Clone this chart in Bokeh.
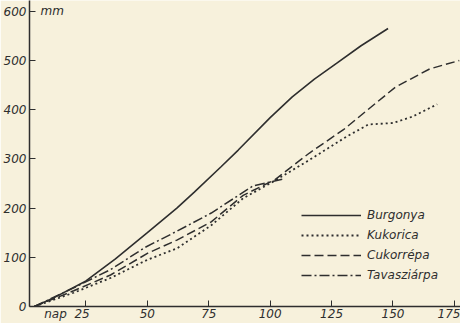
from bokeh.plotting import figure
from bokeh.models import Range1d, Legend, LegendItem, Label, FixedTicker
from bokeh.embed import file_html
from bokeh.resources import INLINE

burg_x = [4, 12, 25, 37, 50, 62, 69, 80, 87, 100, 109, 118, 127, 137, 148]
burg_y = [0, 18, 52, 97, 150, 200, 232, 284, 318, 384, 426, 462, 494, 530, 565]
kuk_x = [4, 20, 35, 50, 62, 76, 89, 102, 116, 131, 140, 150, 158, 168]
kuk_y = [0, 28, 58, 95, 118, 165, 220, 256, 298, 345, 370, 373, 386, 411]
cuk_x = [4, 20, 35, 50, 62, 76, 89, 102, 116, 130, 151, 165, 177]
cuk_y = [0, 32, 64, 108, 135, 172, 226, 258, 312, 360, 446, 483, 500]
tav_x = [4, 20, 35, 49, 62, 76, 93, 106]
tav_y = [0, 38, 75, 120, 153, 190, 245, 260]
x_ticks = [25, 50, 75, 100, 125, 150, 175]
y_ticks = [0, 100, 200, 300, 400, 500, 600]
NB = "\u00a0"
x_labels = {25: "nap" + NB * 2 + "25" + NB * 10}

BG = "#f7f1dc"
INK = "#2e2e2e"
FONT = "DejaVu Sans"

p = figure(width=460, height=323, output_backend="svg", toolbar_location=None,
           x_range=Range1d(2, 177.5), y_range=Range1d(0, 622),
           min_border_left=27, min_border_bottom=0, min_border_top=0, min_border_right=0)
p.background_fill_color = BG
p.border_fill_color = BG
p.outline_line_color = None
p.grid.visible = False

for ax in (p.xaxis[0], p.yaxis[0]):
    ax.axis_line_color = INK
    ax.axis_line_width = 1.5
    ax.major_tick_line_color = INK
    ax.major_tick_in = 6
    ax.major_tick_out = 0
    ax.minor_tick_line_color = None
    ax.major_label_text_font = FONT
    ax.major_label_text_font_style = "italic"
    ax.major_label_text_font_size = "12px"
    ax.major_label_text_color = INK
p.xaxis.ticker = FixedTicker(ticks=x_ticks)
p.yaxis.ticker = FixedTicker(ticks=y_ticks)
p.xaxis.major_label_overrides = x_labels
p.xaxis.major_label_standoff = 0
p.yaxis.major_label_standoff = 3

r1 = p.line(burg_x, burg_y, line_color=INK, line_width=1.6)
r2 = p.line(kuk_x, kuk_y, line_color=INK, line_width=1.8, line_dash="2 3")
r3 = p.line(cuk_x, cuk_y, line_color=INK, line_width=1.5, line_dash="9 4")
r4 = p.line(tav_x, tav_y, line_color=INK, line_width=1.5, line_dash="10 3 2 3")

legend = Legend(items=[LegendItem(label="Burgonya", renderers=[r1]),
                       LegendItem(label="Kukorica", renderers=[r2]),
                       LegendItem(label="Cukorrépa", renderers=[r3]),
                       LegendItem(label="Tavasziárpa", renderers=[r4])],
                location=(272, 22), glyph_width=60, glyph_height=18, spacing=2,
                padding=0, margin=0, label_standoff=6,
                background_fill_alpha=0, border_line_alpha=0,
                label_text_font=FONT, label_text_font_style="italic",
                label_text_font_size="12px", label_text_color=INK,
                label_height=18)
p.add_layout(legend, "center")

p.add_layout(Label(x=6.5, y=600, text="mm", text_font=FONT, text_font_style="italic",
                   text_font_size="12px", text_color=INK, text_baseline="middle"))

open("out.html", "w").write(file_html(p, INLINE))
